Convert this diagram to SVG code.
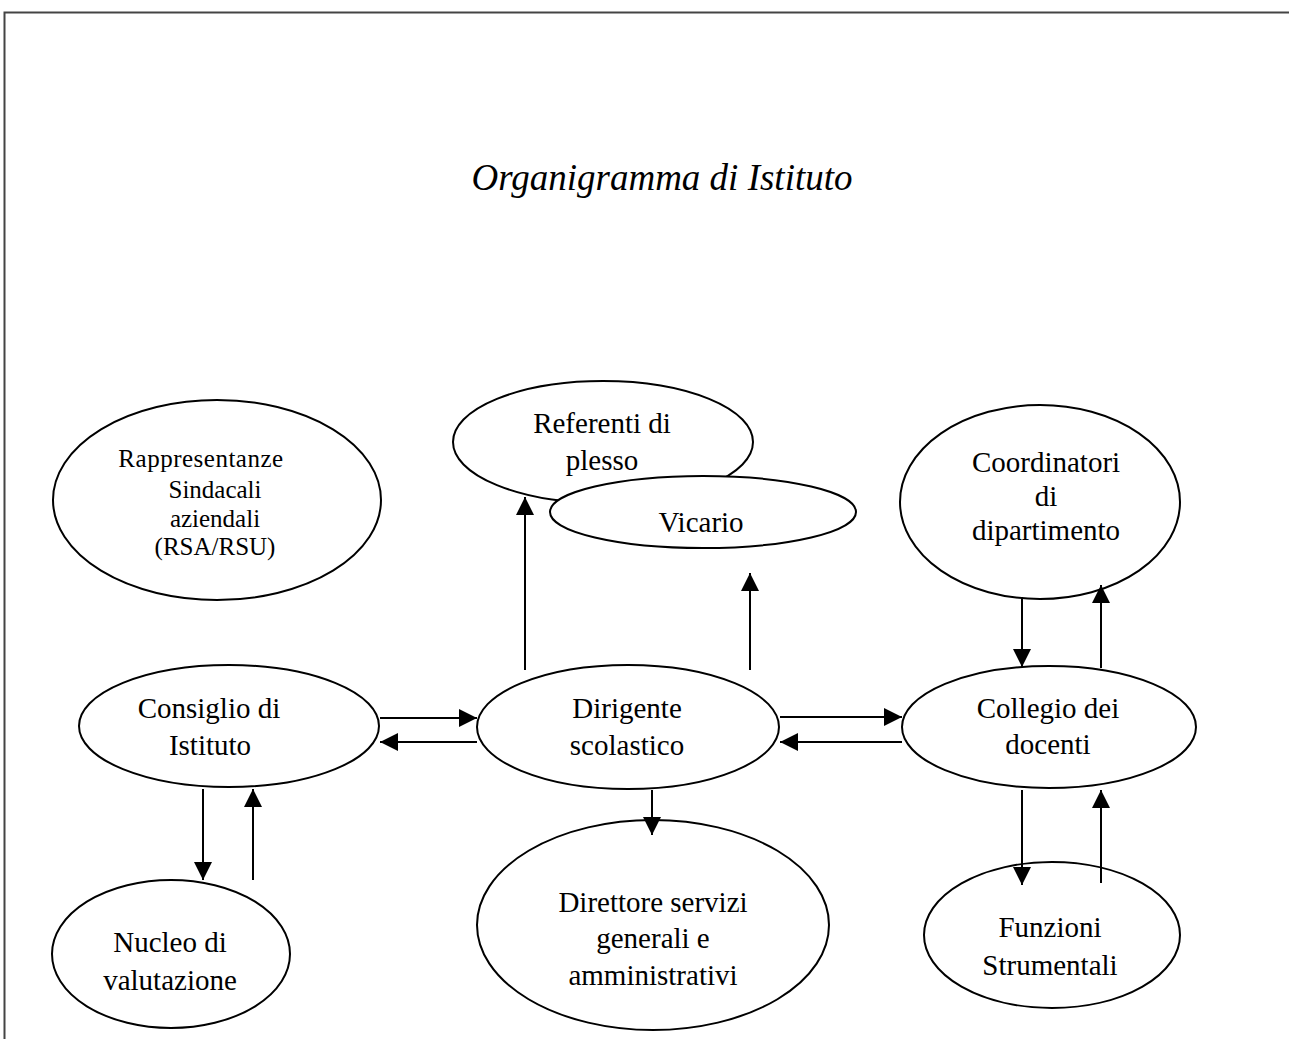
<svg xmlns="http://www.w3.org/2000/svg" width="1289" height="1039" viewBox="0 0 1289 1039">
<defs>
<marker id="ah" viewBox="0 0 10 10" refX="10" refY="5" markerWidth="18" markerHeight="18" markerUnits="userSpaceOnUse" orient="auto"><path d="M0,0 L10,5 L0,10 z" fill="#000"/></marker>
<style>
.n{fill:#fff;stroke:#000;stroke-width:2}
.t{font-family:"Liberation Serif",serif;font-size:29px;text-anchor:middle;fill:#000}
.s{font-family:"Liberation Serif",serif;font-size:25px;text-anchor:middle;fill:#000}
.c line{stroke:#000;stroke-width:2;marker-end:url(#ah)}
</style>
</defs>
<rect width="1289" height="1039" fill="#fff"/>
<path d="M4.5,1039 V12.5 H1289" fill="none" stroke="#444" stroke-width="2"/>
<text x="662" y="190" font-family="Liberation Serif, serif" font-style="italic" font-size="37" text-anchor="middle">Organigramma di Istituto</text>

<g id="rsa"><ellipse class="n" cx="217" cy="500" rx="164" ry="100"/>
<text class="s" x="201" y="467" letter-spacing="0.5">Rappresentanze</text><text class="s" x="215" y="498">Sindacali</text><text class="s" x="215" y="527">aziendali</text><text class="s" x="215" y="555">(RSA/RSU)</text></g>

<g id="referenti"><ellipse class="n" cx="603" cy="442" rx="150" ry="61"/>
<text class="t" x="602" y="433">Referenti di</text><text class="t" x="602" y="470">plesso</text></g>

<g id="vicario"><ellipse class="n" cx="703" cy="512" rx="153" ry="36"/>
<text class="t" x="701" y="532">Vicario</text></g>

<g id="coordinatori"><ellipse class="n" cx="1040" cy="502" rx="140" ry="97"/>
<text class="t" x="1046" y="472">Coordinatori</text><text class="t" x="1046" y="506">di</text><text class="t" x="1046" y="540">dipartimento</text></g>

<g id="consiglio"><ellipse class="n" cx="229" cy="726" rx="150" ry="61"/>
<text class="t" x="209" y="718">Consiglio di</text><text class="t" x="210" y="755">Istituto</text></g>

<g id="dirigente"><ellipse class="n" cx="628" cy="727" rx="151" ry="62"/>
<text class="t" x="627" y="718">Dirigente</text><text class="t" x="627" y="755">scolastico</text></g>

<g id="collegio"><ellipse class="n" cx="1049" cy="727" rx="147" ry="61"/>
<text class="t" x="1048" y="718">Collegio dei</text><text class="t" x="1048" y="754">docenti</text></g>

<g id="nucleo"><ellipse class="n" cx="171" cy="954" rx="119" ry="74"/>
<text class="t" x="170" y="952">Nucleo di</text><text class="t" x="170" y="990">valutazione</text></g>

<g id="direttore"><ellipse class="n" cx="653" cy="925" rx="176" ry="105"/>
<text class="t" x="653" y="912">Direttore servizi</text><text class="t" x="653" y="948">generali e</text><text class="t" x="653" y="985">amministrativi</text></g>

<g id="funzioni"><ellipse class="n" cx="1052" cy="935" rx="128" ry="73"/>
<text class="t" x="1050" y="937">Funzioni</text><text class="t" x="1050" y="975">Strumentali</text></g>

<g id="connectors" class="c">
<line x1="525" y1="670" x2="525" y2="497"/>
<line x1="750" y1="670" x2="750" y2="573"/>
<line x1="380" y1="718" x2="477" y2="718"/>
<line x1="477" y1="742" x2="380" y2="742"/>
<line x1="780" y1="717" x2="902" y2="717"/>
<line x1="902" y1="742" x2="780" y2="742"/>
<line x1="1022" y1="597" x2="1022" y2="667"/>
<line x1="1101" y1="668" x2="1101" y2="585"/>
<line x1="203" y1="789" x2="203" y2="880"/>
<line x1="253" y1="880" x2="253" y2="789"/>
<line x1="652" y1="790" x2="652" y2="835"/>
<line x1="1022" y1="790" x2="1022" y2="885"/>
<line x1="1101" y1="883" x2="1101" y2="790"/>
</g>
</svg>
